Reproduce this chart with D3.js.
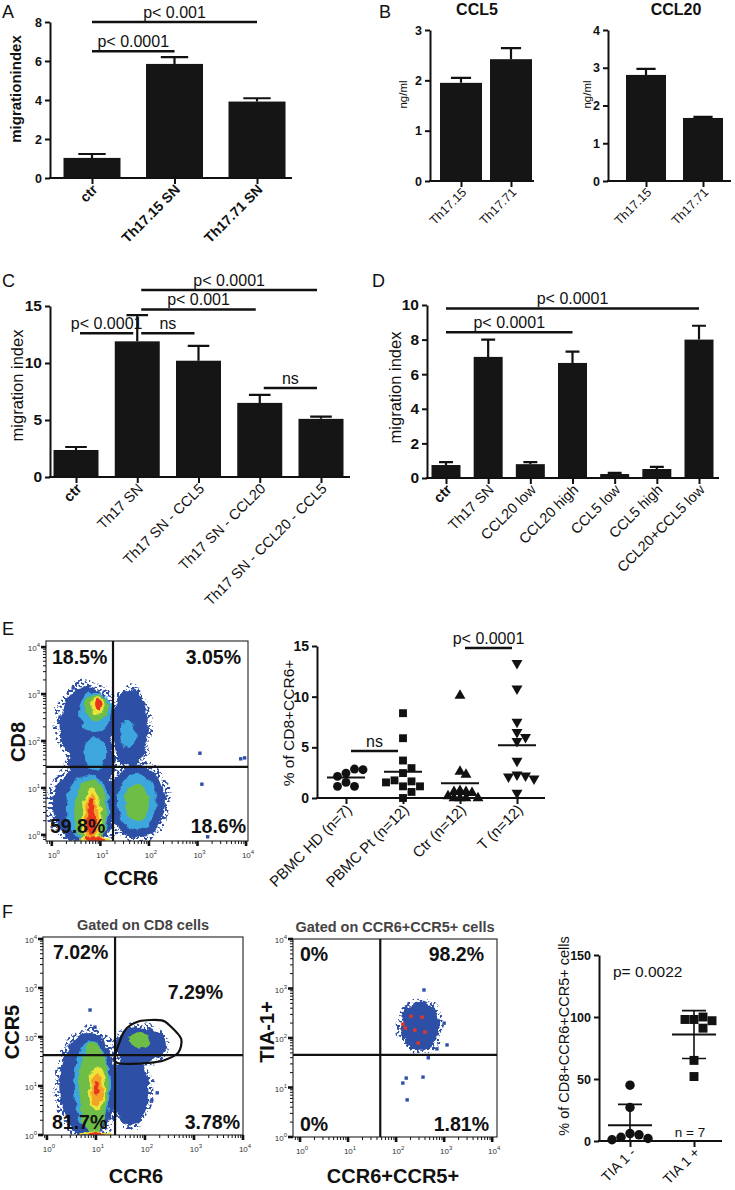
<!DOCTYPE html>
<html>
<head>
<meta charset="utf-8">
<title>Figure</title>
<script src="https://cdn.jsdelivr.net/npm/d3@7/dist/d3.min.js"></script>
<style>
  body { margin: 0; background: #fff; }
  svg { display: block; }
</style>
</head>
<body>
<div id="fig"></div>
<script>
// ---------- data ----------
// A: migration index
let aCats = ['ctr', 'Th17.15 SN', 'Th17.71 SN'];
let aVals = [1.03, 5.85, 3.92];
let aErr = [0.2, 0.35, 0.17];
let aSig = [[0, 1, 6.5, 'p< 0.0001'], [0, 2, 8, 'p< 0.001']];

// B: chemokines in supernatant (ng/ml)
let bCats = ['Th17.15', 'Th17.71'];
let ccl5Vals = [1.95, 2.42];
let ccl5Err = [0.1, 0.22];
let ccl20Vals = [2.81, 1.67];
let ccl20Err = [0.16, 0.03];

// C: migration index, neutralised supernatants
let cCats = ['ctr', 'Th17 SN', 'Th17 SN - CCL5', 'Th17 SN - CCL20', 'Th17 SN - CCL20 - CCL5'];
let cVals = [2.37, 11.9, 10.2, 6.5, 5.1];
let cErr = [0.26, 2.3, 1.3, 0.7, 0.2];
let cSig = [[0, 1, 12.6, 'p< 0.0001'], [1, 2, 12.6, 'ns'], [1, 3, 14.7, 'p< 0.001'], [1, 4, 16.4, 'p< 0.0001'], [3, 4, 7.8, 'ns']];

// D: migration index, recombinant chemokines
let dCats = ['ctr', 'Th17 SN', 'CCL20 low', 'CCL20 high', 'CCL5 low', 'CCL5 high', 'CCL20+CCL5 low'];
let dVals = [0.75, 7.0, 0.8, 6.65, 0.23, 0.52, 8.0];
let dErr = [0.17, 1.0, 0.12, 0.65, 0.07, 0.12, 0.8];
let dSig = [[0, 3, 8.42, 'p< 0.0001'], [0, 6, 9.8, 'p< 0.0001']];

// E right: % of CD8+CCR6+
let eGroups = ['PBMC HD (n=7)', 'PBMC Pt (n=12)', 'Ctr (n=12)', 'T (n=12)'];
let eHD = [2.46, 2.86, 2.13, 2.79, 1.54, 1.15, 1.15];
let ePt = [8.37, 5.9, 3.7, 2.95, 2.46, 1.64, 1.74, 1.15, 1.15, 1.54, 0, 0.6];
let eCtr = [10.1, 2.6, 2.3, 0.7, 0.6, 0.6, 0.5, 0.2, 0, 0, 0, 0];
let eT = [13.3, 10.8, 7.5, 6.5, 6.0, 5.6, 3.65, 2.3, 2.2, 2.1, 1.9, 0.5];
let eSig = [[0, 1, 4.64, 'ns'], [2, 3, 14.8, 'p< 0.0001']];

// F right: % of CD8+CCR6+CCR5+ cells
let fGroups = ['TIA 1 -', 'TIA 1 +'];
let fNeg = [45, 27, 6, 5, 3, 2, 1];
let fPos = [98, 100, 98, 97, 91, 65, 52];

// flow plots: quadrant percentages (UL, UR, LL, LR), gate split in log10 units
let eQuad = ['18.5%', '3.05%', '59.8%', '18.6%'];
let eSplit = [1.26, 1.45];
let f1Quad = ['7.02%', '7.29%', '81.7%', '3.78%'];
let f1Split = [1.39, 1.63];
let f2Quad = ['0%', '98.2%', '0%', '1.81%'];
let f2Split = [1.67, 1.66];

// density populations: [log10 x, log10 y, half-width, half-height (decades), colour level]
let ePops = [
  [0.72, 2.34, 0.56, 0.81, 0], [1.61, 2.28, 0.37, 0.81, 0], [0.83, 1.55, 0.48, 0.62, 0],
  [0.68, 0.64, 0.66, 0.81, 0], [1.75, 0.72, 0.58, 0.78, 0],
  [0.89, 2.62, 0.33, 0.43, 1], [1.57, 2.13, 0.16, 0.30, 1], [0.89, 1.72, 0.23, 0.36, 1],
  [0.74, 0.57, 0.45, 0.72, 1], [1.75, 0.70, 0.41, 0.60, 1],
  [0.93, 2.72, 0.23, 0.28, 2], [0.79, 0.50, 0.33, 0.70, 2], [1.75, 0.70, 0.25, 0.38, 2],
  [0.95, 2.77, 0.14, 0.19, 3], [0.82, 0.40, 0.20, 0.60, 3], [0.89, -0.11, 0.33, 0.06, 3],
  [0.82, 0.38, 0.14, 0.52, 4],
  [0.95, 2.77, 0.08, 0.13, 5], [0.82, 0.38, 0.09, 0.42, 5], [0.89, -0.11, 0.20, 0.04, 5]
];
let eDots = [[3.05, 1.74, 0], [3.89, 1.62, 0], [3.97, 1.64, 0], [3.09, 1.08, 0], [3.21, -0.04, 0],
  [0.17, 2.51, 0], [0.44, 3.13, 0], [2.18, 1.11, 0]];

let f1Pops = [
  [0.84, 1.02, 0.57, 1.06, 0], [1.90, 1.84, 0.51, 0.37, 0], [1.70, 0.92, 0.37, 0.71, 0],
  [0.92, 1.00, 0.37, 0.92, 1],
  [0.95, 0.95, 0.30, 0.95, 2], [1.90, 1.94, 0.20, 0.16, 2],
  [1.02, 0.95, 0.17, 0.45, 3], [1.00, 0.02, 0.30, 0.05, 3],
  [1.02, 0.92, 0.12, 0.32, 4],
  [1.02, 0.95, 0.06, 0.15, 5], [1.00, 0.01, 0.20, 0.04, 5]
];
let f1Dots = [[0.88, 2.55, 0], [0.98, 2.2, 0], [0.27, 1.12, 0], [2.25, 0.86, 0], [2.14, 0.71, 0]];
let f1Gate = [[1.38, 1.58], [1.58, 2.12], [1.88, 2.32], [2.34, 2.34], [2.52, 2.22], [2.74, 1.96],
  [2.68, 1.68], [2.38, 1.52], [2.08, 1.47], [1.68, 1.45], [1.44, 1.47]];

let f2Pops = [[2.50, 2.24, 0.40, 0.50, 0]];
let f2Dots = [[3.0, 2.30, 0], [3.06, 1.86, 0], [2.14, 1.09, 0], [2.23, 0.75, 0], [2.56, 1.21, 0],
  [2.67, 1.60, 0], [2.58, 2.97, 0], [2.85, 1.78, 0], [2.21, 1.19, 0],
  [2.14, 2.28, 5], [2.39, 2.16, 5], [2.46, 1.90, 5], [2.54, 2.42, 5], [2.19, 2.20, 5], [2.60, 2.12, 5], [2.31, 2.44, 5]];

// ---------- drawing ----------
const FONT = '"Liberation Sans", Arial, Helvetica, sans-serif';
let flowColours = ['#2f50a6', '#3ea6dc', '#6dbd46', '#ece43a', '#f3a428', '#e8351f'];

function translate(x, y) {
  return 'translate(' + x + ',' + y + ')';
}

let svg = d3.select('#fig').append('svg')
  .attr('width', 735).attr('height', 1190)
  .attr('font-family', FONT).attr('fill', '#111');
svg.append('rect').attr('width', 735).attr('height', 1190).attr('fill', '#fff');

let defs = svg.append('defs');
// sparse speckled halo around each population
let speck = defs.append('filter').attr('id', 'speck')
  .attr('x', '-20%').attr('y', '-20%').attr('width', '140%').attr('height', '140%');
speck.append('feTurbulence').attr('type', 'fractalNoise').attr('baseFrequency', 0.07)
  .attr('numOctaves', 2).attr('seed', 2).attr('result', 't');
speck.append('feDisplacementMap').attr('in', 'SourceGraphic').attr('in2', 't').attr('scale', 12)
  .attr('xChannelSelector', 'R').attr('yChannelSelector', 'G').attr('result', 'd');
speck.append('feTurbulence').attr('type', 'fractalNoise').attr('baseFrequency', 0.4)
  .attr('numOctaves', 1).attr('seed', 7).attr('result', 'n');
speck.append('feColorMatrix').attr('in', 'n').attr('type', 'matrix')
  .attr('values', '0 0 0 0 0  0 0 0 0 0  0 0 0 0 0  16 0 0 0 -8.2').attr('result', 'm');
speck.append('feComposite').attr('in', 'd').attr('in2', 'm').attr('operator', 'in');

let rough = defs.append('filter').attr('id', 'rough')
  .attr('x', '-20%').attr('y', '-20%').attr('width', '140%').attr('height', '140%');
rough.append('feTurbulence').attr('type', 'fractalNoise').attr('baseFrequency', 0.12)
  .attr('numOctaves', 2).attr('seed', 5).attr('result', 't');
rough.append('feDisplacementMap').attr('in', 'SourceGraphic').attr('in2', 't').attr('scale', 7)
  .attr('xChannelSelector', 'R').attr('yChannelSelector', 'G');

function text(x, y, str, size, opts) {
  opts = opts || {};
  return svg.append('text').attr('x', x).attr('y', y)
    .attr('font-size', size)
    .attr('font-weight', opts.bold ? 'bold' : 'normal')
    .attr('text-anchor', opts.anchor || 'start')
    .attr('fill', opts.fill || '#111')
    .text(str);
}

function vText(x, y, str, size, bold) {
  return svg.append('text')
    .attr('transform', translate(x, y) + ' rotate(-90)')
    .attr('text-anchor', 'middle').attr('font-size', size)
    .attr('font-weight', bold ? 'bold' : 'normal')
    .text(str);
}

function styleYAxis(a, size) {
  a.attr('font-family', FONT);
  a.select('.domain').attr('stroke', '#111').attr('stroke-width', 2);
  a.selectAll('.tick line').attr('stroke', '#111').attr('stroke-width', 2);
  a.selectAll('.tick text').attr('font-size', size).attr('font-weight', 'bold').attr('fill', '#111');
}

function drawSig(g, x, y, cats, sig, size, gap) {
  sig.forEach(s => {
    let x1 = x(cats[s[0]]) + gap, x2 = x(cats[s[1]]) - gap, yy = y(s[2]);
    g.append('line').attr('x1', x1).attr('x2', x2).attr('y1', yy).attr('y2', yy)
      .attr('stroke', '#111').attr('stroke-width', 2.5);
    g.append('text').attr('x', (x1 + x2) / 2).attr('y', yy - 4)
      .attr('text-anchor', 'middle').attr('font-size', size).text(s[3]);
  });
}

function xLabels(g, x, yBase, cats, size, bold) {
  g.selectAll(null).data(cats).enter().append('text')
    .attr('transform', d => translate(x(d) + 3, yBase + 9) + ' rotate(-45)')
    .attr('text-anchor', 'end').attr('dy', '0.35em')
    .attr('font-size', size)
    .attr('font-weight', (d, i) => bold(i) ? 'bold' : 'normal')
    .text(d => d);
}

function xAxis(g, x, yBase, x0, xEnd) {
  g.append('line').attr('x1', x0 - 1).attr('x2', xEnd).attr('y1', yBase).attr('y2', yBase)
    .attr('stroke', '#111').attr('stroke-width', 2);
  let xa = g.append('g').attr('transform', translate(0, yBase))
    .call(d3.axisBottom(x).tickSize(6).tickSizeOuter(0).tickFormat(''));
  xa.select('.domain').remove();
  xa.selectAll('line').attr('stroke', '#111').attr('stroke-width', 2);
}

function drawBars(c) {
  let y = d3.scaleLinear().domain([0, c.max]).range([c.yBot, c.yTop]);
  let x = d3.scalePoint().domain(c.cats).range([c.c0, c.c1]);
  let rows = c.cats.map((k, i) => ({cat: k, v: c.vals[i], e: c.errs[i]}));
  let g = svg.append('g');

  g.selectAll(null).data(rows).enter().append('path')
    .attr('d', d => {
      let cx = x(d.cat), top = y(d.v + d.e), half = c.bw * 0.24;
      return 'M' + cx + ',' + y(d.v) + 'V' + top + 'M' + (cx - half) + ',' + top + 'H' + (cx + half);
    })
    .attr('fill', 'none').attr('stroke', '#111').attr('stroke-width', 2.2);

  g.selectAll(null).data(rows).enter().append('rect')
    .attr('x', d => x(d.cat) - c.bw / 2).attr('y', d => y(d.v))
    .attr('width', c.bw).attr('height', d => y(0) - y(d.v))
    .attr('fill', '#151515');

  let ya = g.append('g').attr('transform', translate(c.x0, 0))
    .call(d3.axisLeft(y).tickValues(c.ticks).tickFormat(d3.format('d'))
      .tickSize(5).tickSizeOuter(0).tickPadding(3));
  styleYAxis(ya, c.tickFont);

  xAxis(g, x, y(0), c.x0, c.xEnd);
  xLabels(g, x, y(0), c.cats, c.xFont, i => c.boldCats.indexOf(i) >= 0);

  vText(c.yLabelX, (c.yTop + c.yBot) / 2 + c.yLabelDy, c.yLabel, c.yLabelFont, c.yLabelBold);
  if (c.sig) drawSig(g, x, y, c.cats, c.sig, c.sigFont, c.sigGap);
  return {x: x, y: y};
}

// place points of one column side by side where they would overlap
function dodge(vals, y, gap) {
  let placed = [];
  let steps = [0, 1, -1, 2, -2, 3, -3, 4, -4];
  return vals.map(v => {
    let py = y(v), off = 0;
    for (let s of steps) {
      off = s * gap;
      if (placed.every(p => Math.hypot(p[0] - off, p[1] - py) >= gap)) break;
    }
    placed.push([off, py]);
    return off;
  });
}

function drawDots(c) {
  let y = d3.scaleLinear().domain([0, c.max]).range([c.yBot, c.yTop]);
  let x = d3.scalePoint().domain(c.groups).range([c.c0, c.c1]);
  let g = svg.append('g');

  c.series.forEach((vals, i) => {
    let cx = x(c.groups[i]);
    let offs = dodge(vals, y, c.gaps[i]);
    let sym = d3.symbol().type(c.shapes[i]).size(c.sizes[i]);
    g.selectAll(null).data(vals).enter().append('path')
      .attr('d', sym)
      .attr('transform', (v, j) => translate(cx + offs[j], y(v)) + (c.flip[i] ? ' rotate(180)' : ''))
      .attr('fill', '#111');
    let m = d3.mean(vals);
    g.append('line').attr('x1', cx - c.meanW / 2).attr('x2', cx + c.meanW / 2)
      .attr('y1', y(m)).attr('y2', y(m)).attr('stroke', '#111').attr('stroke-width', 2);
    if (c.sd) {
      let sd = d3.deviation(vals);
      let lo = Math.max(0, m - sd), hi = m + sd;
      g.append('path')
        .attr('d', 'M' + cx + ',' + y(lo) + 'V' + y(hi) +
          'M' + (cx - c.capW / 2) + ',' + y(hi) + 'H' + (cx + c.capW / 2) +
          'M' + (cx - c.capW / 2) + ',' + y(lo) + 'H' + (cx + c.capW / 2))
        .attr('fill', 'none').attr('stroke', '#111').attr('stroke-width', 1.6);
    }
  });

  let ya = g.append('g').attr('transform', translate(c.x0, 0))
    .call(d3.axisLeft(y).tickValues(c.ticks).tickFormat(d3.format('d'))
      .tickSize(5).tickSizeOuter(0).tickPadding(3));
  styleYAxis(ya, c.tickFont);
  xAxis(g, x, y(0), c.x0, c.xEnd);
  xLabels(g, x, y(0), c.groups, c.xFont, () => false);
  vText(c.yLabelX, (c.yTop + c.yBot) / 2 + c.yLabelDy, c.yLabel, c.yLabelFont, false);
  if (c.sig) drawSig(g, x, y, c.groups, c.sig, c.sigFont, c.sigGap);
  return {x: x, y: y};
}

function sup(sel, base, exp) {
  sel.text(base);
  sel.append('tspan').attr('dy', -4).attr('font-size', 6).text(exp);
}

function drawFlow(c) {
  let p10 = v => Math.pow(10, v);
  let x = d3.scaleLog().domain([p10(c.xd[0]), p10(c.xd[1])]).range([c.left, c.left + c.w]);
  let y = d3.scaleLog().domain([p10(c.yd[0]), p10(c.yd[1])]).range([c.top + c.h, c.top]);
  let kx = c.w / (c.xd[1] - c.xd[0]);
  let ky = c.h / (c.yd[1] - c.yd[0]);
  let bottom = c.top + c.h, right = c.left + c.w;
  let g = svg.append('g');

  defs.append('clipPath').attr('id', 'clip-' + c.id)
    .append('rect').attr('x', c.left).attr('y', c.top).attr('width', c.w).attr('height', c.h);
  let body = g.append('g').attr('clip-path', 'url(#clip-' + c.id + ')');

  // speckled halo of the outermost (blue) level
  let outer = c.pops.filter(p => p[4] === 0);
  body.append('g').attr('filter', 'url(#speck)')
    .selectAll('ellipse').data(outer).enter().append('ellipse')
    .attr('cx', d => x(p10(d[0]))).attr('cy', d => y(p10(d[1])))
    .attr('rx', d => d[2] * kx * 1.22).attr('ry', d => d[3] * ky * 1.15)
    .attr('fill', flowColours[0]);

  d3.range(flowColours.length).forEach(lv => {
    let rows = c.pops.filter(p => p[4] === lv);
    if (!rows.length) return;
    body.append('g').attr('filter', 'url(#rough)')
      .selectAll('ellipse').data(rows).enter().append('ellipse')
      .attr('cx', d => x(p10(d[0]))).attr('cy', d => y(p10(d[1])))
      .attr('rx', d => d[2] * kx).attr('ry', d => d[3] * ky)
      .attr('fill', flowColours[lv]);
  });
  body.selectAll('rect.dot').data(c.dots).enter().append('rect')
    .attr('x', d => x(p10(d[0])) - 1.7).attr('y', d => y(p10(d[1])) - 1.7)
    .attr('width', 3.4).attr('height', 3.4)
    .attr('fill', d => flowColours[d[2]]);

  g.append('rect').attr('x', c.left).attr('y', c.top).attr('width', c.w).attr('height', c.h)
    .attr('fill', 'none').attr('stroke', '#333').attr('stroke-width', 1.2);

  let qx = x(p10(c.split[0])), qy = y(p10(c.split[1]));
  g.append('line').attr('x1', qx).attr('x2', qx).attr('y1', c.top).attr('y2', bottom)
    .attr('stroke', '#111').attr('stroke-width', 2.2);
  g.append('line').attr('x1', c.left).attr('x2', right).attr('y1', qy).attr('y2', qy)
    .attr('stroke', '#111').attr('stroke-width', 2.2);

  if (c.gate) {
    let line = d3.line().x(d => x(p10(d[0]))).y(d => y(p10(d[1]))).curve(d3.curveCardinalClosed.tension(0.2));
    g.append('path').attr('d', line(c.gate)).attr('fill', 'none')
      .attr('stroke', '#111').attr('stroke-width', 2.2);
  }

  let isMajor = t => Math.abs(Math.log10(t) - Math.round(Math.log10(t))) < 1e-6;
  g.selectAll(null).data(y.ticks()).enter().append('line')
    .attr('x1', c.left).attr('x2', t => c.left - (isMajor(t) ? 5 : 3))
    .attr('y1', t => y(t)).attr('y2', t => y(t))
    .attr('stroke', '#111').attr('stroke-width', t => isMajor(t) ? 2.6 : 1);
  g.selectAll(null).data(x.ticks()).enter().append('line')
    .attr('y1', bottom).attr('y2', t => bottom + (isMajor(t) ? 5 : 3))
    .attr('x1', t => x(t)).attr('x2', t => x(t))
    .attr('stroke', '#111').attr('stroke-width', t => isMajor(t) ? 2.6 : 1);

  g.selectAll(null).data(y.ticks().filter(isMajor)).enter().append('text')
    .attr('x', c.left - 6).attr('y', t => y(t) + 4)
    .attr('text-anchor', 'end').attr('font-size', 8).attr('fill', '#333')
    .each(function (t) { sup(d3.select(this), '10', Math.round(Math.log10(t))); });
  g.selectAll(null).data(x.ticks().filter(isMajor)).enter().append('text')
    .attr('x', t => x(t) + 2).attr('y', bottom + 17)
    .attr('text-anchor', 'middle').attr('font-size', 8).attr('fill', '#333')
    .each(function (t) { sup(d3.select(this), '10', Math.round(Math.log10(t))); });

  c.quad.forEach((q, i) => {
    let p = c.quadPos[i];
    text(p[0], p[1], q, 19.5, {bold: true, anchor: p[2]});
  });

  if (c.title) text(c.left + c.w / 2, c.top - 7, c.title, 14.5, {bold: true, anchor: 'middle', fill: '#444'});
  text(c.xLabelPos[0], c.xLabelPos[1], c.xLabel, 20, {bold: true, anchor: 'middle'});
  vText(c.yLabelPos[0], c.yLabelPos[1], c.yLabel, 20, true);
}

// ---------- panel A ----------
text(2, 18, 'A', 18);
drawBars({
  cats: aCats, vals: aVals, errs: aErr, sig: aSig,
  x0: 50, xEnd: 292, yTop: 22, yBot: 178, max: 8, ticks: [0, 2, 4, 6, 8],
  c0: 92, c1: 257, bw: 57, tickFont: 12.5, xFont: 14, boldCats: [0, 1, 2],
  yLabel: 'migrationindex', yLabelX: 21, yLabelDy: -11, yLabelFont: 15, yLabelBold: true,
  sigFont: 16, sigGap: 0
});

// ---------- panel B ----------
text(379, 18, 'B', 18);
text(477, 15, 'CCL5', 16, {bold: true, anchor: 'middle'});
text(676, 15, 'CCL20', 16, {bold: true, anchor: 'middle'});
drawBars({
  cats: bCats, vals: ccl5Vals, errs: ccl5Err,
  x0: 430, xEnd: 534, yTop: 30, yBot: 181, max: 3, ticks: [0, 1, 2, 3],
  c0: 461, c1: 511, bw: 42, tickFont: 12.5, xFont: 12.5, boldCats: [],
  yLabel: 'ng/ml', yLabelX: 407, yLabelDy: -11, yLabelFont: 11.5, yLabelBold: false
});
drawBars({
  cats: bCats, vals: ccl20Vals, errs: ccl20Err,
  x0: 608, xEnd: 731, yTop: 30, yBot: 181, max: 4, ticks: [0, 1, 2, 3, 4],
  c0: 646, c1: 703, bw: 40, tickFont: 12.5, xFont: 12.5, boldCats: [],
  yLabel: 'ng/ml', yLabelX: 591, yLabelDy: -11, yLabelFont: 11.5, yLabelBold: false
});

// ---------- panel C ----------
text(2, 287, 'C', 18);
drawBars({
  cats: cCats, vals: cVals, errs: cErr, sig: cSig,
  x0: 50, xEnd: 350, yTop: 306, yBot: 477, max: 15, ticks: [0, 5, 10, 15],
  c0: 76, c1: 321, bw: 45, tickFont: 15.5, xFont: 14.5, boldCats: [0],
  yLabel: 'migration index', yLabelX: 23, yLabelDy: -6, yLabelFont: 16.5, yLabelBold: false,
  sigFont: 16, sigGap: 4
});

// ---------- panel D ----------
text(372, 287, 'D', 18);
drawBars({
  cats: dCats, vals: dVals, errs: dErr, sig: dSig,
  x0: 427, xEnd: 719, yTop: 305, yBot: 478, max: 10, ticks: [0, 2, 4, 6, 8, 10],
  c0: 446, c1: 699, bw: 29, tickFont: 15.5, xFont: 14.5, boldCats: [0],
  yLabel: 'migration index', yLabelX: 401, yLabelDy: -4, yLabelFont: 16.5, yLabelBold: false,
  sigFont: 16, sigGap: 0
});

// ---------- panel E ----------
text(2, 635, 'E', 18);
drawFlow({
  id: 'e', left: 46, top: 641, w: 202, h: 200, xd: [-0.12, 4.04], yd: [-0.13, 4.13],
  pops: ePops, dots: eDots, split: eSplit, quad: eQuad,
  quadPos: [[52, 664, 'start'], [241, 664, 'end'], [50, 833, 'start'], [246, 833, 'end']],
  xLabel: 'CCR6', xLabelPos: [131, 885], yLabel: 'CD8', yLabelPos: [25, 742]
});
drawDots({
  groups: eGroups, series: [eHD, ePt, eCtr, eT],
  shapes: [d3.symbolCircle, d3.symbolSquare, d3.symbolTriangle, d3.symbolTriangle],
  sizes: [62, 62, 52, 52], flip: [false, false, false, true], gaps: [8.5, 8.5, 6, 8.5],
  x0: 317, xEnd: 545, yTop: 646, yBot: 798, max: 15, ticks: [0, 5, 10, 15],
  c0: 346, c1: 517, meanW: 38, tickFont: 14, xFont: 15,
  yLabel: '% of CD8+CCR6+', yLabelX: 294, yLabelDy: 1, yLabelFont: 15.5,
  sig: eSig, sigFont: 16, sigGap: 5
});

// ---------- panel F ----------
text(2, 918, 'F', 18);
drawFlow({
  id: 'f1', left: 43, top: 937, w: 200, h: 198, xd: [-0.08, 4.0], yd: [0, 4.04],
  pops: f1Pops, dots: f1Dots, gate: f1Gate, split: f1Split, quad: f1Quad,
  quadPos: [[53, 959, 'start'], [223, 999, 'end'], [52, 1129, 'start'], [240, 1129, 'end']],
  title: 'Gated on CD8 cells',
  xLabel: 'CCR6', xLabelPos: [136, 1183], yLabel: 'CCR5', yLabelPos: [19, 1032]
});
drawFlow({
  id: 'f2', left: 293, top: 939, w: 204, h: 198, xd: [-0.146, 4.1], yd: [0, 4.0],
  pops: f2Pops, dots: f2Dots, split: f2Split, quad: f2Quad,
  quadPos: [[300, 961, 'start'], [484, 961, 'end'], [300, 1131, 'start'], [489, 1131, 'end']],
  title: 'Gated on CCR6+CCR5+ cells',
  xLabel: 'CCR6+CCR5+', xLabelPos: [393, 1183], yLabel: 'TIA-1+', yLabelPos: [274, 1032]
});
drawDots({
  groups: fGroups, series: [fNeg, fPos],
  shapes: [d3.symbolCircle, d3.symbolSquare], sizes: [70, 80], flip: [false, false], gaps: [9, 9],
  x0: 599, xEnd: 722, yTop: 955, yBot: 1141, max: 150, ticks: [0, 50, 100, 150],
  c0: 630, c1: 694, meanW: 44, sd: true, capW: 24, tickFont: 12.5, xFont: 14,
  yLabel: '% of CD8+CCR6+CCR5+ cells', yLabelX: 569, yLabelDy: -12, yLabelFont: 14.5
});
text(613, 977, 'p= 0.0022', 15.5);
text(690, 1137, 'n = 7', 13.5, {anchor: 'middle'});
</script>
</body>
</html>
